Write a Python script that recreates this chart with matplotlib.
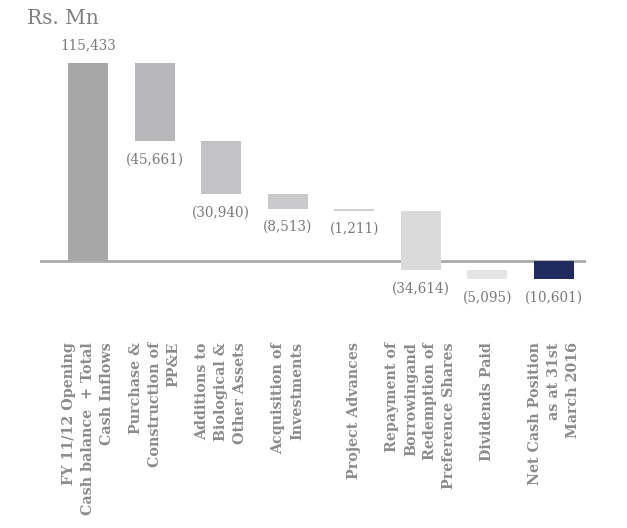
import matplotlib
matplotlib.use('Agg')
import matplotlib.pyplot as plt

# cash flow items in Rs. Mn
categories = ['FY 11/12 Opening\nCash balance  + Total\nCash Inflows',
              'Purchase &\nConstruction of\nPP&E',
              'Additions to\nBiological &\nOther Assets',
              'Acquisition of\nInvestments',
              'Project Advances',
              'Repayment of\nBorrowingand\nRedemption of\nPreference Shares',
              'Dividends Paid',
              'Net Cash Position\nas at 31st\nMarch 2016']
opening = 115433
outflows = [45661, 30940, 8513, 1211, 34614, 5095]
closing = -10601
bar_colors = ['#a7a7a8', '#b7b7b9', '#c3c3c5', '#c9c9cb', '#d0d0d1',
              '#dadadb', '#e4e4e5', '#222b60']

# build the floating bars: (bottom, top)
spans = [(0, opening)]
level = opening
for v in outflows:
    spans.append((level - v, level))
    level -= v
spans.append((closing, 0))
labels = ['{:,}'.format(opening)] + ['({:,})'.format(v) for v in outflows] + ['({:,})'.format(-closing)]

fig = plt.figure(figsize=(6.27, 5.28), dpi=100)
W, H = 627, 528
ax = fig.add_axes([40 / W, 1 - 320 / H, 546 / W, 280 / H])

px = 115433 / 198.0
ax.set_ylim(-(320 - 261) * px, (261 - 40) * px)
ax.set_xlim(-0.72, 7.48)

x = list(range(len(categories)))
for i, (lo, hi) in enumerate(spans):
    ax.bar(i, hi - lo, bottom=lo, width=0.6, color=bar_colors[i], zorder=2)
    if i == 0:
        ax.annotate(labels[i], (i, hi), xytext=(0, 13), textcoords='offset points',
                    ha='center', va='center', fontsize=9.75, color='#7a7a7a',
                    family='DejaVu Serif')
    else:
        ax.annotate(labels[i], (i, lo), xytext=(0, -13), textcoords='offset points',
                    ha='center', va='center', fontsize=9.75, color='#7a7a7a',
                    family='DejaVu Serif')

ax.axhline(0, color='#ababab', lw=2, zorder=1)

for s in ax.spines.values():
    s.set_visible(False)
ax.set_yticks([])
ax.set_xticks(x)
ax.set_xticklabels(categories, rotation=90, ha='center', va='top',
                   multialignment='right', fontsize=10.3, fontweight='bold',
                   color='#8c8c8c', family='DejaVu Serif', linespacing=1.45)
ax.tick_params(axis='x', length=0, pad=16)

fig.text(27 / W, 1 - 18 / H, 'Rs. Mn', fontsize=14.5, color='#808080',
         family='DejaVu Serif', ha='left', va='center')

fig.savefig('out.png', dpi=100)
